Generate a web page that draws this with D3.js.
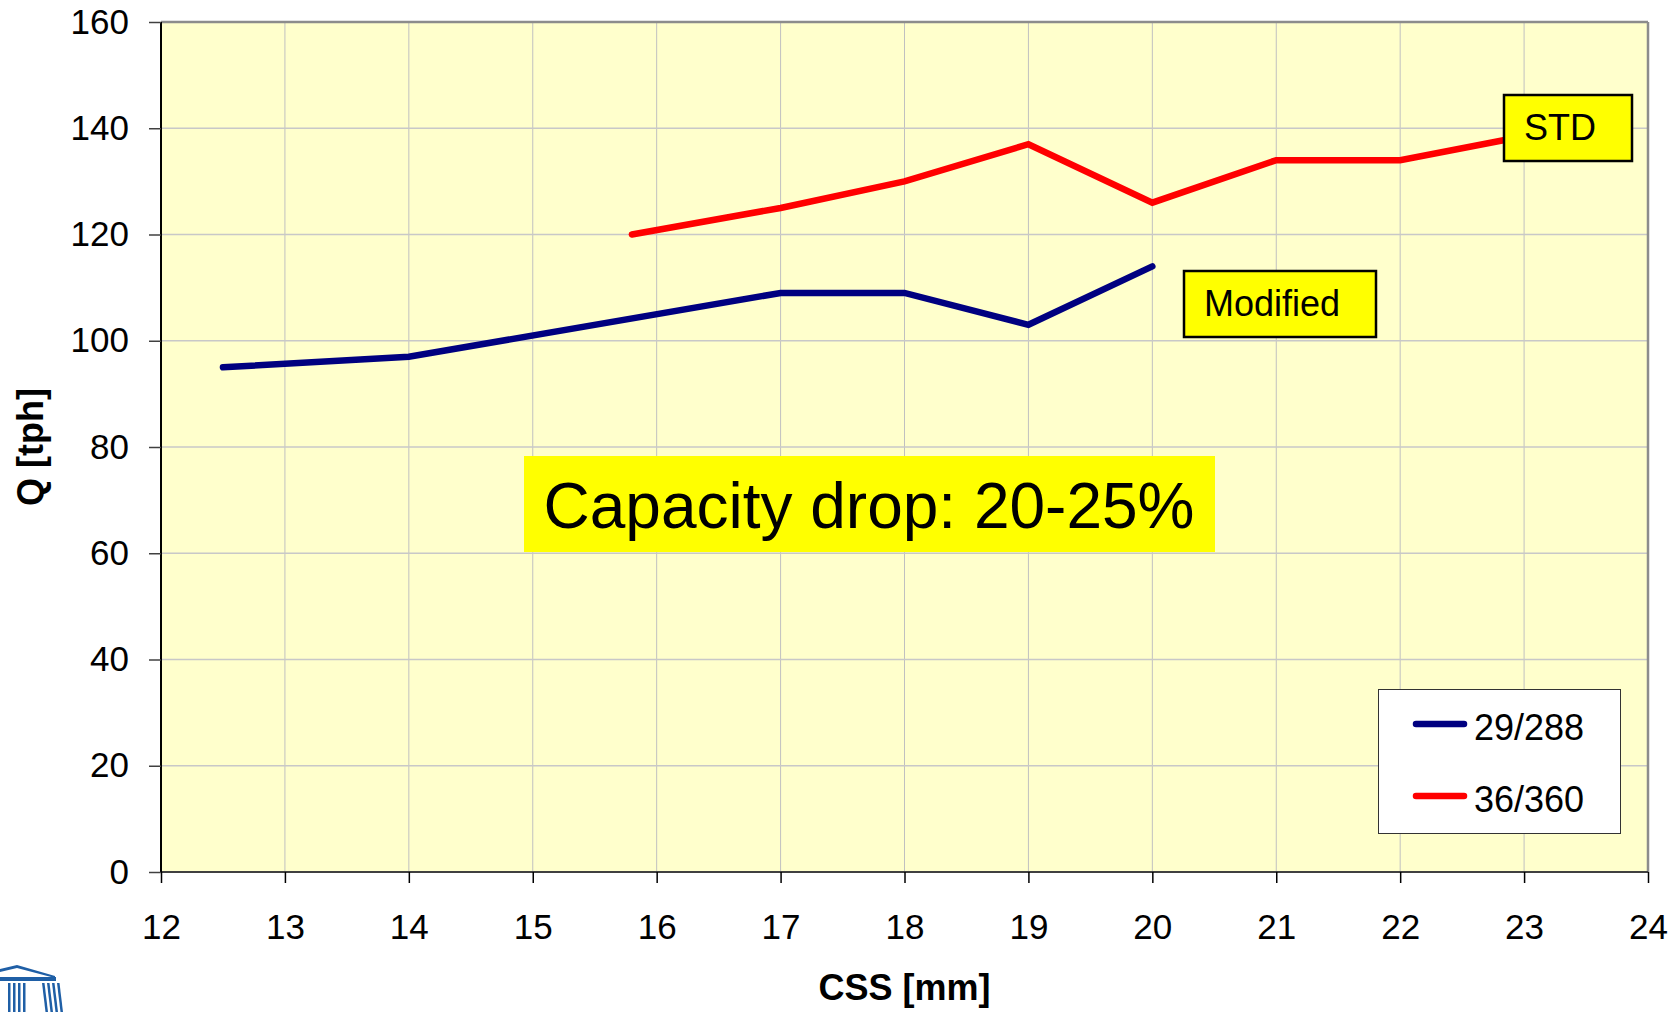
<!DOCTYPE html>
<html>
<head>
<meta charset="utf-8">
<script src="https://cdn.jsdelivr.net/npm/d3@7"></script>
<style>
  html, body { margin: 0; padding: 0; background: #ffffff; }
  svg { display: block; font-family: "Liberation Sans", Arial, sans-serif; }
</style>
</head>
<body>
<svg id="chart" width="1680" height="1012"></svg>
<script>
// ---- data ----
const xTicks = [12, 13, 14, 15, 16, 17, 18, 19, 20, 21, 22, 23, 24];
const yTicks = [0, 20, 40, 60, 80, 100, 120, 140, 160];

const modifiedCSS = [12.5, 14, 17, 18, 19, 20];
const modifiedQ   = [95, 97, 109, 109, 103, 114];

const stdCSS = [15.8, 17, 18, 19, 20, 21, 22, 23];
const stdQ   = [120, 125, 130, 137, 126, 134, 134, 138.5];

const seriesNames = ["29/288", "36/360"];
const seriesColors = ["#000080", "#ff0000"];

const xTitle = "CSS [mm]";
const yTitle = "Q [tph]";
const annoCapacity = "Capacity drop: 20-25%";
const annoModified = "Modified";
const annoStd = "STD";

// ---- layout ----
const svg = d3.select("#chart");
const L = 161, R = 1648, T = 22, B = 872;
const x = d3.scaleLinear().domain([12, 24]).range([L, R]);
const y = d3.scaleLinear().domain([0, 160]).range([B, T]);

// plot background
svg.append("rect").attr("x", L).attr("y", T).attr("width", R - L).attr("height", B - T)
  .attr("fill", "#ffffcc");

// gridlines
const grid = svg.append("g");
grid.selectAll("line.vx").data(xTicks.filter(d => d > 12 && d < 24)).enter().append("line")
  .attr("x1", d => x(d)).attr("x2", d => x(d)).attr("y1", T).attr("y2", B)
  .attr("stroke", "#c0c0c0").attr("stroke-width", 1);
grid.selectAll("line.hy").data(yTicks.filter(d => d > 0 && d < 160)).enter().append("line")
  .attr("x1", L).attr("x2", R).attr("y1", d => y(d)).attr("y2", d => y(d))
  .attr("stroke", "#c8c8c8").attr("stroke-width", 1.5);

// top and right border
svg.append("line").attr("x1", L).attr("x2", R).attr("y1", T).attr("y2", T)
  .attr("stroke", "#8c8c8c").attr("stroke-width", 2.5);
svg.append("line").attr("x1", R).attr("x2", R).attr("y1", T).attr("y2", B)
  .attr("stroke", "#8c8c8c").attr("stroke-width", 2.5);

// axes
const xAxis = d3.axisBottom(x).tickValues(xTicks).tickSize(11).tickPadding(31).tickFormat(d3.format("d"));
const yAxis = d3.axisLeft(y).tickValues(yTicks).tickSize(12).tickPadding(20).tickFormat(d3.format("d"));

const gx = svg.append("g").attr("transform", `translate(0,${B})`).call(xAxis);
gx.select(".domain").attr("stroke", "#404040").attr("stroke-width", 2).attr("d", `M${L},0H${R}`);
gx.selectAll(".tick line").attr("stroke", "#000").attr("stroke-width", 1.5);
gx.selectAll(".tick text").attr("font-size", 35).attr("fill", "#000")
  .attr("font-family", "Liberation Sans, Arial, sans-serif").attr("dy", "0.71em");

const gy = svg.append("g").attr("transform", `translate(${L},0)`).call(yAxis);
gy.select(".domain").attr("stroke", "#000").attr("stroke-width", 2).attr("d", `M0,${B}V${T}`);
gy.selectAll(".tick line").attr("stroke", "#404040").attr("stroke-width", 1.5);
gy.selectAll(".tick text").attr("font-size", 35).attr("fill", "#000")
  .attr("font-family", "Liberation Sans, Arial, sans-serif");

// axis titles
svg.append("text").attr("x", (L + R) / 2).attr("y", 1000).attr("text-anchor", "middle")
  .attr("font-size", 36).attr("font-weight", "bold").text(xTitle);
svg.append("text").attr("transform", `translate(43,${(T + B) / 2}) rotate(-90)`)
  .attr("text-anchor", "middle").attr("font-size", 36).attr("font-weight", "bold").text(yTitle);

// lines
const line = d3.line().x(d => x(d[0])).y(d => y(d[1]));
const series = [
  d3.zip(modifiedCSS, modifiedQ),
  d3.zip(stdCSS, stdQ)
];
svg.selectAll("path.series").data(series).enter().append("path")
  .attr("d", line).attr("fill", "none")
  .attr("stroke", (d, i) => seriesColors[i]).attr("stroke-width", 6.5)
  .attr("stroke-linejoin", "miter").attr("stroke-linecap", "round");

// annotation: capacity drop
svg.append("rect").attr("x", 524).attr("y", 456).attr("width", 691).attr("height", 96)
  .attr("fill", "#ffff00");
svg.append("text").attr("x", 869).attr("y", 528).attr("text-anchor", "middle")
  .attr("font-size", 64).text(annoCapacity);

// annotation: Modified
svg.append("rect").attr("x", 1184).attr("y", 271).attr("width", 192).attr("height", 66)
  .attr("fill", "#ffff00").attr("stroke", "#000").attr("stroke-width", 2.5);
svg.append("text").attr("x", 1204).attr("y", 316).attr("font-size", 36).text(annoModified);

// annotation: STD
svg.append("rect").attr("x", 1504).attr("y", 95).attr("width", 128).attr("height", 66)
  .attr("fill", "#ffff00").attr("stroke", "#000").attr("stroke-width", 2.5);
svg.append("text").attr("x", 1524).attr("y", 140).attr("font-size", 36).text(annoStd);

// legend
const lg = svg.append("g");
lg.append("rect").attr("x", 1378.5).attr("y", 689.5).attr("width", 242).attr("height", 144)
  .attr("fill", "#ffffff").attr("stroke", "#333").attr("stroke-width", 1);
seriesNames.forEach((name, i) => {
  const yy = 724 + i * 72;
  lg.append("line").attr("x1", 1416).attr("x2", 1464).attr("y1", yy).attr("y2", yy)
    .attr("stroke", seriesColors[i]).attr("stroke-width", 6.5).attr("stroke-linecap", "round");
  lg.append("text").attr("x", 1474).attr("y", yy + 15.5).attr("font-size", 36).text(name);
});

// logo (partial building icon at bottom-left)
const logo = svg.append("g").attr("fill", "#1f5fa6");
logo.append("path").attr("d", "M0,969 L17,965 L55,976 L55,978 L17,968 L0,972 Z");
logo.append("rect").attr("x", 0).attr("y", 977).attr("width", 56).attr("height", 4);
[8, 13, 18, 23].forEach(cx => {
  logo.append("rect").attr("x", cx).attr("y", 983).attr("width", 2.5).attr("height", 29);
});
[42, 47, 52, 57].forEach(cx => {
  logo.append("path").attr("d", `M${cx},983 L${cx + 2.5},983 L${cx + 6},1012 L${cx + 3.5},1012 Z`);
});
</script>
</body>
</html>
